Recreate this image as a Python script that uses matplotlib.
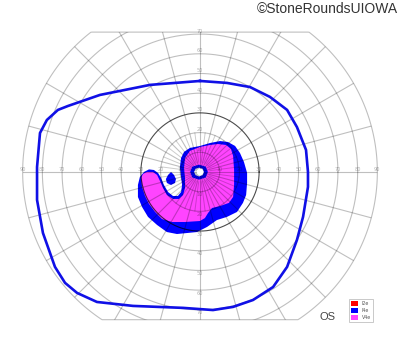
import numpy as np
import matplotlib
matplotlib.use('Agg')
import matplotlib.pyplot as plt
from matplotlib.patches import Polygon, Patch

# isopters, visual field degrees (x = temporal/nasal, y = superior/inferior)
outer_x = [0.0, 13.7, 25.4, 35.5, 44.2, 49.2, 53.8, 54.8, 54.8, 52.3, 49.2, 44.2,
           37.1, 26.9, 16.8, 6.6, -8.6, -34.0, -52.3, -62.4, -68.5, -73.6, -79.7,
           -82.7, -82.7, -81.2, -77.7, -72.1, -67.0, -50.8, -25.4]
outer_y = [46.2, 45.2, 43.1, 38.1, 31.5, 22.8, 11.2, 0.0, -7.6, -22.8, -34.5, -48.2,
           -58.4, -65.0, -68.5, -70.1, -69.0, -68.0, -66.0, -61.4, -56.3, -48.2, -31.0,
           -14.2, 2.5, 19.8, 26.4, 31.5, 33.5, 39.1, 44.2]

blue_x = [5.1, 10.2, 14.2, 17.8, 20.3, 22.3, 23.9, 23.9, 23.4, 21.8, 18.8, 13.7, 8.6,
          3.6, -1.5, -6.6, -11.7, -16.8, -21.8, -26.4, -29.4, -31.5, -31.5, -30.5,
          -28.4, -25.9, -23.4, -21.3, -19.8, -18.3, -16.2, -13.7, -11.2, -9.6, -9.1,
          -9.6, -10.2, -9.6, -8.1, -5.1, 0.0]
blue_y = [14.7, 15.7, 15.2, 13.2, 9.6, 5.1, -0.5, -5.6, -11.7, -15.7, -20.3, -22.8, -24.4,
          -27.9, -30.5, -31.0, -31.5, -30.5, -26.9, -22.8, -17.8, -12.7, -6.6, -2.5,
          0.0, 1.3, 1.0, -0.5, -3.0, -6.6, -10.2, -12.2, -12.2, -10.2, -6.6,
          -2.5, 2.5, 7.1, 10.2, 12.2, 13.2]

magenta_x = [-26.9, -23.9, -21.8, -20.3, -18.8, -16.8, -13.7, -10.7, -8.6, -7.6, -7.6,
             -8.1, -7.6, -5.1, 0.0, 5.1, 9.1, 13.2, 15.7, 16.8, 17.3, 17.3, 16.8, 14.7,
             10.2, 6.1, 4.1, 2.5, 0.0, -7.6, -14.2, -19.3, -22.8, -25.9, -27.9, -29.4,
             -29.9, -28.9]
magenta_y = [0.0, 0.0, -1.5, -4.6, -8.1, -11.7, -13.7, -13.7, -11.7, -8.1, -3.0,
             2.0, 7.1, 10.7, 12.7, 13.7, 14.2, 13.7, 11.7, 8.1, 1.0, -6.6, -12.7, -15.7,
             -17.3, -18.3, -20.8, -23.4, -24.9, -25.4, -25.4, -23.9, -20.3, -16.2, -12.2, -7.6,
             -3.0, -1.0]

island_x = [-14.7, -13.2, -12.2, -12.7, -14.7, -16.8, -17.3, -16.2]
island_y = [0.0, -1.5, -3.6, -5.6, -6.6, -5.6, -3.6, -1.5]

spot_x = [4.0, 2.9, -0.5, -3.9, -5.0, -3.9, -0.5, 2.9]
spot_y = [0.0, 2.7, 3.7, 2.7, 0.0, -2.8, -3.9, -2.8]
hole_x = [2.0, 1.4, -0.5, -2.3, -3.0, -2.3, -0.5, 1.4]
hole_y = [0.0, 1.6, 2.2, 1.6, 0.0, -1.6, -2.3, -1.6]

rings = [10, 20, 30, 40, 50, 60, 70, 80]
meridians = list(range(0, 360, 15))
minor_meridians = [m + 7.5 for m in range(0, 360, 15)]
h_labels = [10, 20, 30, 40, 50, 60, 70, 80, 90]
v_labels = [10, 20, 30, 40, 50, 60, 70]

legend_labels = ['I2e', 'I4e', 'V4e']
legend_colors = ['#ff0000', '#0000ff', '#ff44ff']

fig = plt.figure(figsize=(4, 3.52), dpi=100)
ax = fig.add_axes([0, 0, 1, 1])
ax.set_xlim(-101.5, 101.5)
ax.set_ylim(-91.4, 87.3)
ax.axis('off')

# chart outline: 90 deg circle cut flat at top and bottom
t = np.linspace(0, 2 * np.pi, 721)
bx = 90 * np.cos(t)
by = np.clip(90 * np.sin(t), -75, 71)
border = Polygon(np.column_stack([bx, by]), closed=True, fill=False,
                 edgecolor='black', alpha=0.25, lw=0.8, zorder=3)
ax.add_patch(border)

# filled isopters
ax.fill(blue_x, blue_y, color='#0000ff', lw=0, zorder=1)
ax.fill(magenta_x, magenta_y, color='#ff44ff', lw=0, zorder=1.1)
ax.fill(island_x, island_y, color='#0000ff', lw=0, zorder=1.1)
ax.fill(spot_x, spot_y, color='#0000ff', lw=0, zorder=1.2)
ax.fill(hole_x, hole_y, color='white', lw=0, zorder=1.3)

# grid on top, translucent so it darkens the fills
grid = []
for r in rings:
    a = 0.7 if r == 30 else 0.25
    ln, = ax.plot(r * np.cos(t), r * np.sin(t), color='black', alpha=a, lw=0.8, zorder=3)
    grid.append(ln)
for m in meridians:
    a = np.radians(m)
    ln, = ax.plot([2 * np.cos(a), 90 * np.cos(a)], [2 * np.sin(a), 90 * np.sin(a)],
                  color='black', alpha=0.25, lw=0.8, zorder=3)
    grid.append(ln)
for m in minor_meridians:
    a = np.radians(m)
    ln, = ax.plot([5 * np.cos(a), 20 * np.cos(a)], [5 * np.sin(a), 20 * np.sin(a)],
                  color='black', alpha=0.2, lw=0.7, zorder=3)
    grid.append(ln)
for ln in grid:
    ln.set_clip_path(border)

for v in h_labels:
    for s in (-1, 1):
        ax.text(s * v, 1.3, str(v), fontsize=3.6, color='black', alpha=0.3,
                ha='center', va='center', zorder=3)
for v in v_labels:
    ax.text(0, v + 1.5, str(v), fontsize=3.6, color='black', alpha=0.3,
            ha='center', va='center', zorder=3)
    ax.text(0, -v - 1.5, str(v), fontsize=3.6, color='black', alpha=0.3,
            ha='center', va='center', zorder=3)

# outer isopter line
ax.plot(outer_x + outer_x[:1], outer_y + outer_y[:1], color='#1010e6', lw=1.9,
        solid_joinstyle='round', zorder=4)

handles = [Patch(facecolor=c, edgecolor='none', label=l)
           for c, l in zip(legend_colors, legend_labels)]
leg = ax.legend(handles=handles, loc='lower right', bbox_to_anchor=(0.932, 0.085),
                bbox_transform=fig.transFigure, fontsize=3.4, frameon=True,
                fancybox=False, edgecolor='#bbbbbb', borderpad=0.35,
                labelspacing=0.35, handlelength=1.5, handleheight=1.4,
                handletextpad=0.9, borderaxespad=0)
leg.get_frame().set_linewidth(0.7)
for txt in leg.get_texts():
    txt.set_color('#555555')

fig.text(0.82, 0.1, 'OS', fontsize=8, color='#444444', ha='center', va='center',
         family='Liberation Sans')
fig.text(0.995, 0.975, '\u00a9StoneRoundsUIOWA', fontsize=10, color='#333333',
         ha='right', va='center', family='Liberation Sans')

fig.savefig('out.png', dpi=100)
